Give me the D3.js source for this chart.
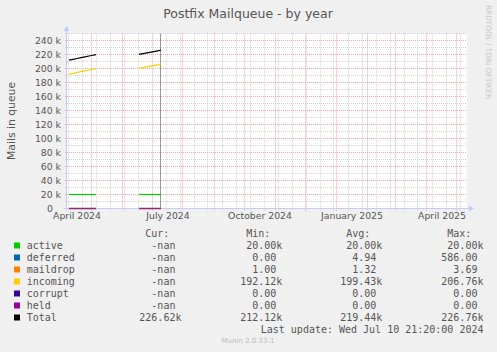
<!DOCTYPE html>
<html>
<head>
<meta charset="utf-8">
<script src="https://cdn.jsdelivr.net/npm/d3@7"></script>
<style>
  body { margin: 0; background: #f0f0f0; }
  svg { display: block; }
  text { font-family: "DejaVu Sans", sans-serif; fill: #555; }
  .mono { font-family: "DejaVu Sans Mono", monospace; font-size: 10px; white-space: pre; }
</style>
</head>
<body>
<svg id="svg" width="497" height="352"></svg>
<script>
// ---- data ----
var seriesNames  = ["active", "deferred", "maildrop", "incoming", "corrupt", "held", "Total"];
var seriesColors = ["#00cc00", "#0066b3", "#ff8000", "#ffcc00", "#330099", "#990099", "#000000"];

// two stretches of data, the rest of the year is empty
var dates1 = ["2024-04-09", "2024-04-13", "2024-04-17", "2024-04-21", "2024-04-25", "2024-04-29", "2024-05-03", "2024-05-06"];
var dates2 = ["2024-06-18", "2024-06-22", "2024-06-26", "2024-06-30", "2024-07-04", "2024-07-08", "2024-07-10"];

var active1   = [20000, 20000, 20000, 20000, 20000, 20000, 20000, 20000];
var active2   = [20000, 20000, 20000, 20000, 20000, 20000, 20000];
var deferred1 = [0, 0, 0, 0, 0, 0, 0, 0];
var deferred2 = [0, 0, 0, 0, 0, 0, 0];
var maildrop1 = [1, 1, 1, 1, 1, 1, 1, 1];
var maildrop2 = [1, 1, 1, 1, 1, 1, 1];
var incoming1 = [192120, 193300, 194500, 195700, 196900, 198100, 199200, 200000];
var incoming2 = [200400, 201500, 202600, 203700, 204800, 205900, 206760];
var corrupt1  = [0, 0, 0, 0, 0, 0, 0, 0];
var corrupt2  = [0, 0, 0, 0, 0, 0, 0];
var held1     = [0, 0, 0, 0, 0, 0, 0, 0];
var held2     = [0, 0, 0, 0, 0, 0, 0];
var total1    = [212120, 213300, 214500, 215700, 216900, 218100, 219200, 220000];
var total2    = [220400, 221500, 222600, 223700, 224800, 225900, 226760];

// legend numbers (Cur / Min / Avg / Max)
var curVals = [NaN, NaN, NaN, NaN, NaN, NaN, 226620];
var minVals = [20000, 0, 1, 192120, 0, 0, 212120];
var avgVals = [20000, 4.94, 1.32, 199430, 0, 0, 219440];
var maxVals = [20000, 586, 3.69, 206760, 0, 0, 226760];

var lastUpdate = "Wed Jul 10 21:20:00 2024";
var lastUpdateTime = Date.UTC(2024, 6, 10, 21, 20);

var seg1 = [active1, deferred1, maildrop1, incoming1, corrupt1, held1, total1];
var seg2 = [active2, deferred2, maildrop2, incoming2, corrupt2, held2, total2];

// ---- layout ----
var svg = d3.select("#svg"),
    plot = { left: 67, right: 467, top: 33.5, bottom: 208.5 };

var tStart = Date.UTC(2024, 3, 7), tEnd = Date.UTC(2025, 4, 12);   // 400 days
var x = d3.scaleUtc().domain([tStart, tEnd]).range([plot.left, plot.right]);
var y = d3.scaleLinear().domain([0, 250300]).range([plot.bottom, plot.top]);

var snap = function(v) { return Math.round(v - 0.5) + 0.5; };
var parse = d3.utcParse("%Y-%m-%d");

var gridMinor = "#d2d2d2", gridMajor = "#f2a3a3", axisCol = "#c5cbf5";

svg.append("rect")
  .attr("x", plot.left).attr("y", plot.top)
  .attr("width", plot.right - plot.left).attr("height", plot.bottom - plot.top)
  .attr("fill", "#fff");

var grid = svg.append("g").attr("fill", "none").attr("stroke-width", 1).attr("stroke-dasharray", "1,1");

// horizontal minor / major grid
grid.selectAll(".hmin").data(d3.range(10000, 250300, 20000)).enter().append("line")
  .attr("x1", plot.left - 2).attr("x2", plot.right)
  .attr("y1", d => snap(y(d))).attr("y2", d => snap(y(d)))
  .attr("stroke", gridMinor);

var yMajor = d3.range(0, 250300, 20000);
grid.selectAll(".hmaj").data(yMajor.slice(1)).enter().append("line")
  .attr("x1", plot.left - 2).attr("x2", plot.right)
  .attr("y1", d => snap(y(d))).attr("y2", d => snap(y(d)))
  .attr("stroke", gridMajor);

// vertical: every other week (minor), months (major)
var months = d3.utcMonth.range(tStart, tEnd);
var weeks = d3.utcMonday.every(2).range(tStart, tEnd).filter(d => d.getUTCDate() !== 1);
grid.selectAll(".vmin").data(weeks).enter().append("line")
  .attr("x1", d => snap(x(d))).attr("x2", d => snap(x(d)))
  .attr("y1", plot.top).attr("y2", plot.bottom + 2)
  .attr("stroke", gridMinor);
grid.selectAll(".vmaj").data(months).enter().append("line")
  .attr("x1", d => snap(x(d))).attr("x2", d => snap(x(d)))
  .attr("y1", plot.top).attr("y2", plot.bottom + 2)
  .attr("stroke", gridMajor);

// y labels ("0" keeps the blank unit, so it sits left of the others)
svg.append("g").selectAll("text").data(yMajor).enter().append("text")
  .attr("x", d => d === 0 ? 53 : 61).attr("y", d => y(d) + 3.4)
  .attr("text-anchor", "end").style("font-size", "9.3px")
  .text(d => d === 0 ? "0" : (d / 1000) + " k");

// x labels, every 3 months, centred half a month after the tick
var fmtMonth = d3.utcFormat("%B %Y");
svg.append("g").selectAll("text")
  .data(d3.utcMonth.every(3).range(Date.UTC(2024, 3, 1), tEnd)).enter().append("text")
  .attr("x", d => x(d3.utcDay.offset(d, 15)) + 1)
  .attr("y", 219)
  .attr("text-anchor", "middle").style("font-size", "9.3px")
  .text(d => fmtMonth(d));

// axes with arrows
svg.append("line").attr("x1", plot.left - 0.5).attr("x2", plot.left - 0.5)
  .attr("y1", plot.bottom + 2).attr("y2", 30).attr("stroke", axisCol);
svg.append("line").attr("x1", plot.left - 3).attr("x2", 470)
  .attr("y1", plot.bottom).attr("y2", plot.bottom).attr("stroke", axisCol);
svg.append("path").attr("d", "M63.5,31L66.5,26L69.5,31Z").attr("fill", axisCol);
svg.append("path").attr("d", "M469,205.5L474,208.5L469,211.5Z").attr("fill", axisCol);

// marker at the last update
svg.append("line")
  .attr("x1", snap(x(lastUpdateTime)) - 1).attr("x2", snap(x(lastUpdateTime)) - 1)
  .attr("y1", plot.top).attr("y2", plot.bottom)
  .attr("stroke", "#999");

// series lines
var lineGen = d3.line().x(d => x(d[0])).y(d => y(d[1]));
var lines = svg.append("g").attr("fill", "none").attr("stroke-width", 1.2);
[[dates1, seg1], [dates2, seg2]].forEach(function(seg) {
  var ds = seg[0].map(parse);
  seg[1].forEach(function(vals, i) {
    var faint = seriesNames[i] === "held" || seriesNames[i] === "corrupt";
    lines.append("path")
      .attr("d", lineGen(vals.map((v, j) => [ds[j], v])))
      .attr("stroke", seriesColors[i])
      .attr("opacity", faint ? 0.5 : 1);
  });
});

// title, axis title, watermark
svg.append("text").attr("x", 248).attr("y", 17.5).attr("text-anchor", "middle")
  .style("font-size", "12.5px").text("Postfix Mailqueue - by year");
svg.append("text").attr("transform", "translate(14.5,121) rotate(-90)")
  .attr("text-anchor", "middle").style("font-size", "10.8px").text("Mails in queue");
svg.append("text").attr("transform", "translate(486,5) rotate(90)")
  .style("font-size", "7.3px").style("fill", "#c8c8c8").text("RRDTOOL / TOBI OETIKER");

// ---- legend ----
var fmtVal = function(v) {
  if (isNaN(v)) return "  -nan ";
  if (Math.abs(v) >= 1000) return d3.format("6.2f")(v / 1000) + "k";
  return d3.format("6.2f")(v) + " ";
};

var colX = [139.3, 240.2, 340.2, 441.3];
var heads = ["Cur:", "Min:", "Avg:", "Max:"];
var cols = [curVals, minVals, avgVals, maxVals];
var legend = svg.append("g");

heads.forEach(function(h, c) {
  legend.append("text").attr("class", "mono").attr("x", colX[c] + 6).attr("y", 237.3).text(h);
});

seriesNames.forEach(function(name, i) {
  var by = 249.3 + i * 12;
  legend.append("rect").attr("x", 14).attr("y", by - 6.8).attr("width", 6).attr("height", 6)
    .attr("fill", seriesColors[i]);
  legend.append("text").attr("class", "mono").attr("x", 26.7).attr("y", by).text(name);
  cols.forEach(function(vals, c) {
    legend.append("text").attr("class", "mono").attr("x", colX[c]).attr("y", by).text(fmtVal(vals[i]));
  });
});

legend.append("text").attr("class", "mono").attr("x", 483.5).attr("y", 333)
  .attr("text-anchor", "end").text("Last update: " + lastUpdate);

svg.append("text").attr("x", 248).attr("y", 343).attr("text-anchor", "middle")
  .style("font-size", "7px").style("fill", "#bbb").text("Munin 2.0.33-1");
</script>
</body>
</html>
